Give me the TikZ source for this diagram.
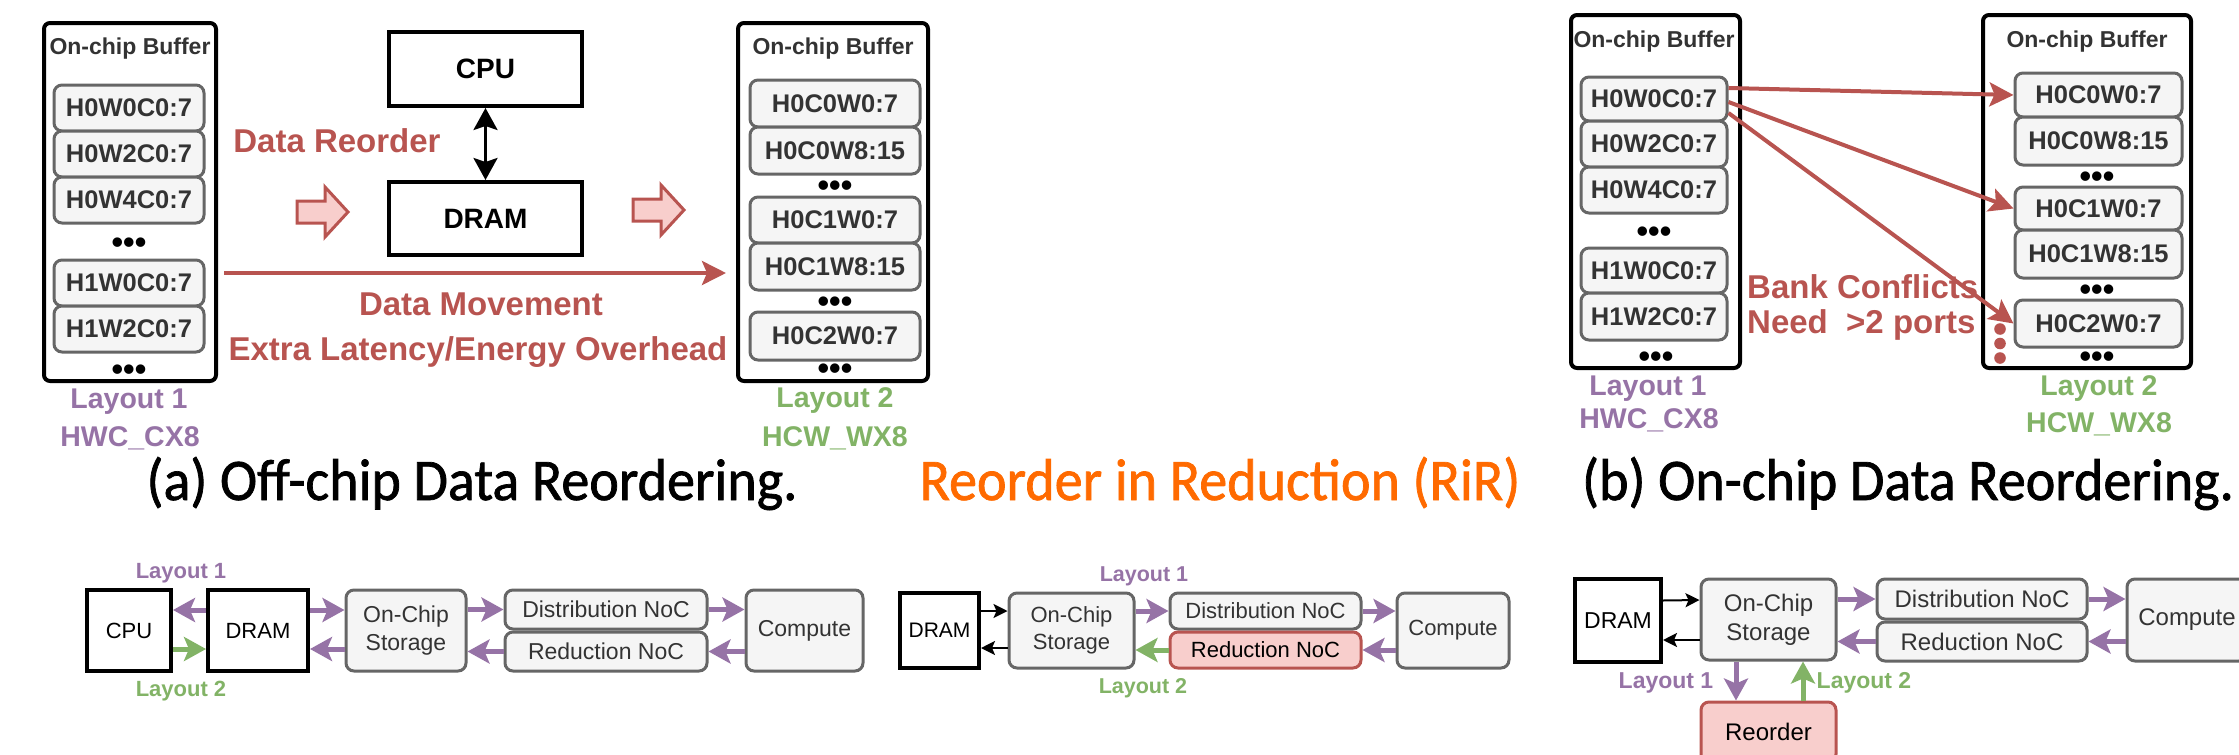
\documentclass[tikz,border=0pt]{standalone}
\usepackage{fontspec}
\setmainfont{Liberation Sans}
\newfontfamily\capfont[FakeStretch=0.95,FakeBold=1.2]{Carlito}
\usetikzlibrary{arrows.meta}
\definecolor{dred}{HTML}{B85450}
\definecolor{pinkf}{HTML}{F8CECC}
\definecolor{purp}{HTML}{9673A6}
\definecolor{grn}{HTML}{82B366}
\definecolor{gfill}{HTML}{F5F5F5}
\definecolor{gline}{HTML}{666666}
\definecolor{txt}{HTML}{333333}
\definecolor{orng}{HTML}{FF6A00}
\newcommand{\fsz}[1]{\fontsize{#1}{#1}\selectfont}
\newcommand{\fsl}[2]{\fontsize{#1}{#2}\selectfont}
\begin{document}
\begin{tikzpicture}[x=1pt,y=-1pt,
  buf/.style={draw=black, line width=4pt, rounded corners=6pt, inner sep=0pt},
  item/.style={draw=gline, fill=gfill, line width=3pt, rounded corners=8pt, inner sep=0pt, text=txt, font=\bfseries\fsz{25.5}},
  ell/.style={inner sep=0pt, text=black, font=\bfseries\fsz{33}},
  buftitle/.style={inner sep=0pt, text=txt, font=\bfseries\fsz{23}, anchor=base},
  lay1/.style={inner sep=0pt, text=purp, font=\bfseries\fsz{28.5}, anchor=base},
  lay2/.style={inner sep=0pt, text=grn, font=\bfseries\fsz{28.5}, anchor=base},
  redtxt/.style={inner sep=0pt, text=dred, font=\bfseries\fsz{33}, anchor=base},
  hw/.style={draw=black, line width=4pt, inner sep=0pt, font=\bfseries\fsz{28}},
  captxt/.style={inner sep=0pt, font=\capfont\fsz{59}, anchor=base},
  redarr/.style={draw=dred, line width=4pt, -{Stealth[length=24pt,width=24pt,inset=5pt]}},
  dblarr/.style={draw=black, line width=3pt, {Stealth[length=22pt,width=24pt,inset=4pt]}-{Stealth[length=22pt,width=24pt,inset=4pt]}},
  hollow/.style={draw=dred, fill=pinkf, line width=3pt, line join=miter},
  kbox/.style={draw=black, line width=4pt, fill=white, inner sep=0pt, text=black},
  gbox/.style={draw=gline, fill=gfill, line width=3pt, rounded corners=8pt, inner sep=0pt, text=txt, align=center},
  rbox/.style={draw=dred, fill=pinkf, line width=3pt, rounded corners=8pt, inner sep=0pt, text=black, align=center},
  parr/.style={draw=purp, line width=5pt, -{Stealth[length=22pt,width=24pt,inset=5pt]}},
  garr/.style={draw=grn, line width=5pt, -{Stealth[length=22pt,width=24pt,inset=5pt]}},
  karr/.style={draw=black, line width=2pt, -{Stealth[length=14pt,width=14pt,inset=3pt]}},
  blab1/.style={inner sep=0pt, text=purp, anchor=base},
  blab2/.style={inner sep=0pt, text=grn, anchor=base}
]
\path[use as bounding box] (0,0) rectangle (2239,755);
\clip (0,0) rectangle (2239,755);

% ================= (a) Off-chip =================
\node[buf, minimum width=172pt, minimum height=358pt] (bufA1) at (130,202) {};
\node[buftitle] (tA1) at (130,54) {On-chip Buffer};
\node[item, minimum width=150pt, minimum height=46pt] (a11) at (129,108) {H0W0C0:7};
\node[item, minimum width=150pt, minimum height=46pt] (a12) at (129,154) {H0W2C0:7};
\node[item, minimum width=150pt, minimum height=46pt] (a13) at (129,200) {H0W4C0:7};
\node[ell] (ea11) at (129,246) {•••};
\node[item, minimum width=150pt, minimum height=46pt] (a14) at (129,283) {H1W0C0:7};
\node[item, minimum width=150pt, minimum height=46pt] (a15) at (129,329) {H1W2C0:7};
\node[ell] (ea12) at (129,373) {•••};
\node[lay1] (la1) at (129,408) {Layout 1};
\node[lay1] (fa1) at (130,446) {HWC\_CX8};

\node[buf, minimum width=190pt, minimum height=358pt] (bufA2) at (833,202) {};
\node[buftitle] (tA2) at (833,54) {On-chip Buffer};
\node[item, minimum width=170pt, minimum height=47pt] (a21) at (835,103.5) {H0C0W0:7};
\node[item, minimum width=170pt, minimum height=47pt] (a22) at (835,150.5) {H0C0W8:15};
\node[ell] (ea21) at (835,189) {•••};
\node[item, minimum width=170pt, minimum height=46pt] (a23) at (835,220) {H0C1W0:7};
\node[item, minimum width=170pt, minimum height=47pt] (a24) at (835,266.5) {H0C1W8:15};
\node[ell] (ea22) at (835,305) {•••};
\node[item, minimum width=170pt, minimum height=48pt] (a25) at (835,336) {H0C2W0:7};
\node[ell] (ea23) at (835,372) {•••};
\node[lay2] (la2) at (835,407) {Layout 2};
\node[lay2] (fa2) at (835,446) {HCW\_WX8};

\node[hw, minimum width=193pt, minimum height=74pt] (cpuA) at (485.5,69) {CPU};
\node[hw, minimum width=193pt, minimum height=73pt] (dramA) at (485.5,218.5) {DRAM};
\draw[dblarr] (cpuA.south) -- (dramA.north);

\node[redtxt] (drA) at (337,152) {Data Reorder};
\node[redtxt] (dmA) at (481,315) {Data Movement};
\node[redtxt] (elA) at (478,360) {Extra Latency/Energy Overhead};

\draw[hollow] (297,201) -- (325,201) -- (325,187) -- (348,212) -- (325,237) -- (325,223) -- (297,223) -- cycle;
\draw[hollow] (633,199) -- (661,199) -- (661,185) -- (684,210) -- (661,235) -- (661,221) -- (633,221) -- cycle;

\draw[redarr] ([xshift=6pt,yshift=-71pt]bufA1.east) -- ([xshift=-10pt,yshift=-71pt]bufA2.west);

% ================= (b) On-chip =================
\node[buf, minimum width=169pt, minimum height=353pt] (bufB1) at (1655.5,191.5) {};
\node[buftitle] (tB1) at (1654,47) {On-chip Buffer};
\node[item, minimum width=146pt, minimum height=44pt] (b11) at (1654,99) {H0W0C0:7};
\node[item, minimum width=146pt, minimum height=46pt] (b12) at (1654,144) {H0W2C0:7};
\node[item, minimum width=146pt, minimum height=46pt] (b13) at (1654,190) {H0W4C0:7};
\node[ell] (eb11) at (1654,235) {•••};
\node[item, minimum width=146pt, minimum height=45pt] (b14) at (1654,270.5) {H1W0C0:7};
\node[item, minimum width=146pt, minimum height=47pt] (b15) at (1654,316.5) {H1W2C0:7};
\node[ell] (eb12) at (1656,360) {•••};
\node[lay1] (lb1) at (1648,395) {Layout 1};
\node[lay1] (fb1) at (1649,428) {HWC\_CX8};

\node[buf, minimum width=208pt, minimum height=353pt] (bufB2) at (2087,191.5) {};
\node[buftitle] (tB2) at (2087,47) {On-chip Buffer};
\node[item, minimum width=167pt, minimum height=44pt] (b21) at (2098.5,95) {H0C0W0:7};
\node[item, minimum width=167pt, minimum height=48pt] (b22) at (2098.5,141) {H0C0W8:15};
\node[ell] (eb21) at (2097,180) {•••};
\node[item, minimum width=167pt, minimum height=43pt] (b23) at (2098.5,208.5) {H0C1W0:7};
\node[item, minimum width=167pt, minimum height=48pt] (b24) at (2098.5,254) {H0C1W8:15};
\node[ell] (eb22) at (2097,293) {•••};
\node[item, minimum width=167pt, minimum height=47pt] (b25) at (2098.5,323.5) {H0C2W0:7};
\node[ell] (eb23) at (2097,360) {•••};
\node[lay2] (lb2) at (2099,395) {Layout 2};
\node[lay2] (fb2) at (2099,432) {HCW\_WX8};

\node[redtxt, anchor=base west] (bc) at (1747,298) {Bank Conflicts};
\node[redtxt, anchor=base west] (np) at (1747,333) {Need\ \ >2 ports};

\draw[redarr] ([yshift=11pt]b11.east) -- (b21.west);
\draw[redarr] ([yshift=-3pt]b11.east) -- (b23.west);
\draw[redarr] ([yshift=-14pt]b11.east) -- (b25.west);
\fill[dred] (2000,329) circle[radius=5.8pt];
\fill[dred] (2000,343.5) circle[radius=5.8pt];
\fill[dred] (2000,358) circle[radius=5.8pt];

% ================= captions =================
\node[captxt] (capa) at (472,500) {(a) Off-chip Data Reordering.};
\node[captxt, text=orng] (capr) at (1220,500) {Reorder in Reduction (RiR)};
\node[captxt] (capb) at (1908,500) {(b) On-chip Data Reordering.};

% ================= bottom (a') =================
\node[kbox, minimum width=84pt, minimum height=81pt, font=\fsz{22}] (cpuP) at (129,630.5) {CPU};
\node[kbox, minimum width=100pt, minimum height=81pt, font=\fsz{22}] (dramP) at (258,630.5) {DRAM};
\node[gbox, minimum width=120pt, minimum height=81pt, font=\fsl{23}{28}] (stoP) at (406,630.5) {On-Chip\\Storage};
\node[gbox, minimum width=202pt, minimum height=39pt, font=\fsz{23}] (distP) at (606,609.5) {Distribution NoC};
\node[gbox, minimum width=202pt, minimum height=39pt, font=\fsz{23}] (redP) at (606,651.5) {Reduction NoC};
\node[gbox, minimum width=117pt, minimum height=81pt, font=\fsz{23}] (compP) at (804.5,630.5) {Compute};
\node[blab1, font=\bfseries\fsz{22}] (lp1) at (181,578) {Layout 1};
\node[blab2, font=\bfseries\fsz{22}] (lp2) at (181,696) {Layout 2};
\draw[parr] ([yshift=20.5pt]dramP.west) -- ([yshift=20.5pt]cpuP.east);
\draw[garr] ([yshift=-18.5pt]cpuP.east) -- ([yshift=-18.5pt]dramP.west);
\draw[parr] ([yshift=20.5pt]dramP.east) -- ([yshift=20.5pt]stoP.west);
\draw[parr] ([yshift=-18.5pt]stoP.west) -- ([yshift=-18.5pt]dramP.east);
\draw[parr] ([yshift=21pt]stoP.east) -- (distP.west);
\draw[parr] (distP.east) -- ([yshift=21pt]compP.west);
\draw[parr] ([yshift=-21pt]compP.west) -- (redP.east);
\draw[parr] (redP.west) -- ([yshift=-21pt]stoP.east);

% ================= bottom (RiR) =================
\node[kbox, minimum width=79pt, minimum height=75pt, font=\fsz{21}] (dramR) at (939.5,630.5) {DRAM};
\node[gbox, minimum width=125pt, minimum height=75pt, font=\fsl{22}{27}] (stoR) at (1071.5,630.5) {On-Chip\\Storage};
\node[gbox, minimum width=191pt, minimum height=36pt, font=\fsz{22}] (distR) at (1265.5,611) {Distribution NoC};
\node[rbox, minimum width=191pt, minimum height=36pt, font=\fsz{22}] (redR) at (1265.5,650) {Reduction NoC};
\node[gbox, minimum width=112pt, minimum height=75pt, font=\fsz{22}] (compR) at (1453,630.5) {Compute};
\node[blab1, font=\bfseries\fsz{21.5}] (lr1) at (1144,581) {Layout 1};
\node[blab2, font=\bfseries\fsz{21.5}] (lr2) at (1143,693) {Layout 2};
\draw[karr] ([yshift=19.5pt]dramR.east) -- ([yshift=19.5pt]stoR.west);
\draw[karr] ([yshift=-17.5pt]stoR.west) -- ([yshift=-17.5pt]dramR.east);
\draw[parr] ([yshift=19.5pt]stoR.east) -- (distR.west);
\draw[parr] (distR.east) -- ([yshift=19.5pt]compR.west);
\draw[parr] ([yshift=-19.5pt]compR.west) -- (redR.east);
\draw[garr] (redR.west) -- ([yshift=-19.5pt]stoR.east);

% ================= bottom (b') =================
\node[kbox, minimum width=86pt, minimum height=83pt, font=\fsz{23}] (dramS) at (1618,620.5) {DRAM};
\node[gbox, minimum width=135pt, minimum height=81pt, font=\fsl{24}{29}] (stoS) at (1768.5,619.5) {On-Chip\\Storage};
\node[gbox, minimum width=210pt, minimum height=40pt, font=\fsz{24}] (distS) at (1982,599) {Distribution NoC};
\node[gbox, minimum width=210pt, minimum height=39pt, font=\fsz{24}] (redS) at (1982,641.5) {Reduction NoC};
\node[gbox, minimum width=120pt, minimum height=82pt, font=\fsz{24}] (compS) at (2187,620) {Compute};
\node[rbox, minimum width=135pt, minimum height=60pt, font=\fsz{24}] (reoS) at (1768.5,732) {Reorder};
\node[blab1, font=\bfseries\fsz{23}] (ls1) at (1666,688) {Layout 1};
\node[blab2, font=\bfseries\fsz{23}] (ls2) at (1864,688) {Layout 2};
\draw[karr] ([yshift=20pt]dramS.east) -- ([yshift=19.5pt]stoS.west);
\draw[karr] ([yshift=-20.5pt]stoS.west) -- ([yshift=-19.5pt]dramS.east);
\draw[parr] ([yshift=20.5pt]stoS.east) -- (distS.west);
\draw[parr] (distS.east) -- ([yshift=21pt]compS.west);
\draw[parr] ([yshift=-21.5pt]compS.west) -- (redS.east);
\draw[parr] (redS.west) -- ([yshift=-22pt]stoS.east);
\draw[parr] ([xshift=-32.5pt]stoS.south) -- ([xshift=-32.5pt]reoS.north);
\draw[garr] ([xshift=34.5pt]reoS.north) -- ([xshift=34.5pt]stoS.south);
\end{tikzpicture}
\end{document}
